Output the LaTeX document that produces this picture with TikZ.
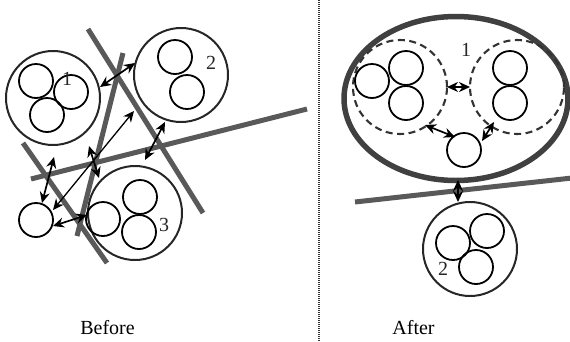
\documentclass[tikz,border=0pt]{standalone}
\usepackage{fontspec}
\setmainfont{Liberation Serif}
\usetikzlibrary{arrows.meta,shapes.geometric}
\begin{document}
\begin{tikzpicture}[x=1pt,y=-1pt,
  small/.style={circle,draw=black,line width=1.8pt,minimum size=34pt,inner sep=0pt},
  big/.style={circle,draw=black!85,line width=2pt,minimum size=94pt,inner sep=0pt},
  dcirc/.style={circle,draw=black!80,dash pattern=on 7pt off 4.5pt,line width=2.1pt,minimum size=94pt,inner sep=0pt},
  wall/.style={draw=black!65,line width=5pt},
  link/.style={<->,>={Stealth[length=11pt,width=10pt]},line width=1.7pt},
  lbl/.style={font=\fontsize{20}{20}\selectfont,inner sep=0pt,text=black!85},
  captxt/.style={font=\fontsize{20}{20}\selectfont,inner sep=0pt,anchor=base}]
\useasboundingbox (0,0) rectangle (570,341);
% divider
\draw[line width=1.5pt,dash pattern=on 1pt off 1pt,black!80] (319,0) -- (319,341);
% ---------- Before ----------
\coordinate (w1a) at (88,29);  \coordinate (w1b) at (203,213);
\coordinate (w2a) at (123,53); \coordinate (w2b) at (77,236);
\coordinate (w3a) at (31,179); \coordinate (w3b) at (307,109);
\coordinate (w4a) at (23,143); \coordinate (w4b) at (107,263);
\draw[wall] (w1a) -- (w1b);
\draw[wall] (w2a) -- (w2b);
\draw[wall] (w3a) -- (w3b);
\draw[wall] (w4a) -- (w4b);
% cluster 1
\node[big] (c1) at (53,98) {};
\node[small] (c1a) at (36,81) {};
\node[small] (c1b) at (71,92) {};
\node[small] (c1c) at (47,115) {};
\node[lbl] (l1) at (67,79) {1};
% cluster 2
\node[big] (c2) at (181,75) {};
\node[small] (c2a) at (175,57) {};
\node[small] (c2b) at (187,92) {};
\node[lbl] (l2) at (211,63) {2};
% cluster 3
\node[big] (c3) at (135,213) {};
\node[small] (c3a) at (140,197) {};
\node[small] (c3b) at (103,219) {};
\node[small] (c3c) at (139,232) {};
\node[lbl] (l3) at (164,225) {3};
% single
\node[small] (s) at (36,220) {};
% arrows
\coordinate (a1s) at (100,87);  \coordinate (a1e) at (135,63);
\coordinate (a2s) at (53,210);  \coordinate (a2e) at (134,111);
\coordinate (a3s) at (42,203);  \coordinate (a3e) at (54,157);
\coordinate (a4s) at (53,226);  \coordinate (a4e) at (87,215);
\coordinate (a5s) at (89,146);  \coordinate (a5e) at (99,178);
\coordinate (a6s) at (145,160); \coordinate (a6e) at (165,122);
\draw[link] (a1s) -- (a1e);
\draw[link,line width=1.3pt] (a2s) -- (a2e);
\draw[link] (a3s) -- (a3e);
\draw[link] (a4s) -- (a4e);
\draw[link] (a5s) -- (a5e);
\draw[link] (a6s) -- (a6e);
\node[captxt] (before) at (107.5,334) {Before};
% ---------- After ----------
\coordinate (w5a) at (355,202); \coordinate (w5b) at (572,178);
\draw[wall] (w5a) -- (w5b);
\node[ellipse,draw=black!75,line width=5.5pt,minimum width=224pt,minimum height=164pt,inner sep=0pt] (E) at (456,98.5) {};
\node[dcirc] (dl) at (400,87) {};
\node[dcirc] (dr) at (517,87) {};
\node[small] (la) at (372,81) {};
\node[small] (lb) at (406,68) {};
\node[small] (lc) at (406,103) {};
\node[small] (ra) at (510,68) {};
\node[small] (rb) at (510,103) {};
\node[lbl] (l1r) at (466,50) {1};
\node[small] (s2) at (464,150) {};
\node[big] (c2r) at (470,249) {};
\node[small] (c2ra) at (453,243) {};
\node[small] (c2rb) at (487,231) {};
\node[small] (c2rc) at (476,267) {};
\node[lbl] (l2r) at (443,269) {2};
\coordinate (b1s) at (447,87); \coordinate (b1e) at (470,87);
\coordinate (b2s) at (425,125); \coordinate (b2e) at (455,137);
\coordinate (b3s) at (482,141); \coordinate (b3e) at (494,122);
\coordinate (b4s) at (458,180); \coordinate (b4e) at (458,202);
\draw[link] (b1s) -- (b1e);
\draw[link] (b2s) -- (b2e);
\draw[link] (b3s) -- (b3e);
\draw[link] (b4s) -- (b4e);
\node[captxt] (after) at (413.5,334) {After};
\end{tikzpicture}
\end{document}
